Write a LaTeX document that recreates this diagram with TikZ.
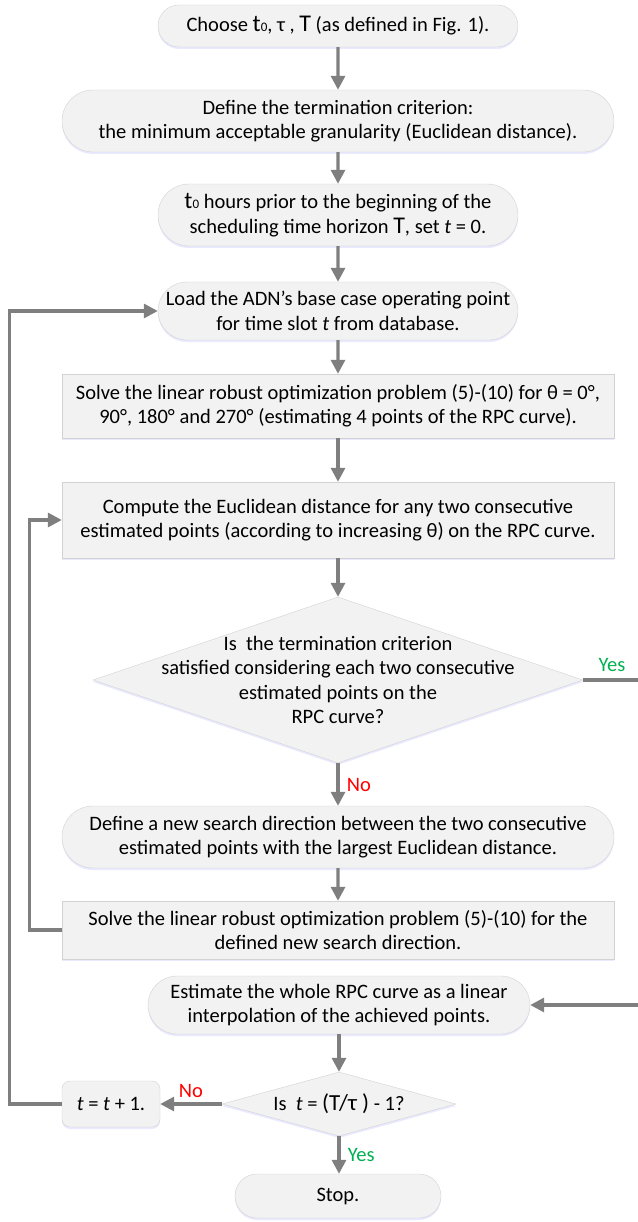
\documentclass[tikz,border=0pt]{standalone}
\usepackage{fontspec}
\setmainfont{Carlito}
\usetikzlibrary{shapes.geometric,shapes.misc,arrows.meta,shadows}

\definecolor{boxfill}{RGB}{242,242,242}
\definecolor{boxline}{RGB}{210,210,210}
\definecolor{arrgray}{RGB}{127,127,127}
\definecolor{yesgreen}{RGB}{0,176,80}
\definecolor{nored}{RGB}{255,0,0}

\newcommand{\tzero}{{\fontsize{24}{24}\selectfont t}{\fontsize{13}{14}\selectfont 0}}
\newcommand{\bigT}{{\fontsize{24}{24}\selectfont T}}

\tikzset{
  base/.style={draw=boxline, fill=boxfill, align=center, inner sep=0pt,
    font=\fontsize{20.5}{24.5}\selectfont,
    drop shadow={shadow xshift=0pt, shadow yshift=-2pt, fill=blue!25, opacity=0.35}},
  pill/.style={base, rounded rectangle},
  box/.style={base},
  decision/.style={base, diamond},
  arr/.style={draw=arrgray, line width=3.2pt, -{Triangle[length=14pt,width=14pt]}},
  yeslbl/.style={text=yesgreen, font=\fontsize{20.5}{24.5}\selectfont},
  nolbl/.style={text=nored, font=\fontsize{20.5}{24.5}\selectfont},
  txt/.style={align=center, font=\fontsize{20.5}{24.5}\selectfont},
}

\begin{document}
\begin{tikzpicture}[x=1pt, y=-1pt]
    \useasboundingbox (0,0) rectangle (637,1222);

    % main column
    \node[pill, minimum width=360pt, minimum height=42pt] (choose) at (338,26)
        {Choose \tzero, τ , \bigT\ (as defined in Fig. 1).};
    \node[pill, minimum width=552pt, minimum height=62pt] (crit) at (338,121)
        {Define the termination criterion:\\the minimum acceptable granularity (Euclidean distance).};
    \node[pill, minimum width=360pt, minimum height=62pt] (hours) at (338,215)
        {\tzero\ hours prior to the beginning of the\\scheduling time horizon \bigT, set \textit{t} = 0.};
    \node[pill, minimum width=360pt, minimum height=58pt] (load) at (338,311)
        {Load the ADN’s base case operating point\\for time slot \textit{t} from database.};
    \node[box, minimum width=552pt, minimum height=64pt] (solve) at (338,406)
        {Solve the linear robust optimization problem (5)-(10) for θ = 0°,\\90°, 180° and 270° (estimating 4 points of the RPC curve).};
    \node[box, minimum width=552pt, minimum height=76pt] (comp) at (338,520)
        {Compute the Euclidean distance for any two consecutive\\estimated points (according to increasing θ) on the RPC curve.};
    \node[decision, minimum width=490pt, minimum height=166pt] (dec) at (338,680) {};
    \node[txt] (dectxt) at (dec.center)
        {Is\ \ the termination criterion\\satisfied considering each two consecutive\\estimated points on the\\RPC curve?};
    \node[pill, minimum width=552pt, minimum height=62pt] (newdir) at (338,837)
        {Define a new search direction between the two consecutive\\estimated points with the largest Euclidean distance.};
    \node[box, minimum width=552pt, minimum height=58pt] (solvenew) at (338,930)
        {Solve the linear robust optimization problem (5)-(10) for the\\defined new search direction.};
    \node[pill, minimum width=382pt, minimum height=58pt] (est) at (339,1005)
        {Estimate the whole RPC curve as a linear\\interpolation of the achieved points.};
    \node[decision, minimum width=234pt, minimum height=64pt] (last) at (339,1104) {};
    \node[txt] (lasttxt) at (last.center)
        {Is\ \ \textit{t} = {\fontsize{23}{24}\selectfont (T/τ )} - 1?};
    \node[base, rounded corners=8pt, minimum width=98pt, minimum height=46pt] (incr) at (111,1104)
        {\textit{t} = \textit{t} + 1.};
    \node[pill, minimum width=206pt, minimum height=44pt] (stop) at (338,1196) {Stop.};

    % connectors
    \draw[arr] (choose) -- (crit);
    \draw[arr] (crit) -- (hours);
    \draw[arr] (hours) -- (load);
    \draw[arr] (load) -- (solve);
    \draw[arr] (solve) -- (comp);
    \draw[arr] (comp) -- (dec);
    \draw[arr] (dec) -- node[nolbl, right=4pt] {No} (newdir);
    \draw[arr] (newdir) -- (solvenew);
    \draw[arr] (solvenew.west) -- ++(-32,0) |- (comp.west);
    \draw[arr] (dec.east) -- ++(80,0) |- (est.east);
    \node[yeslbl] at (612,665) {Yes};
    \draw[arr] (est.south -| last.north) -- (last.north);
    \draw[arr] (last.west) -- node[nolbl, above=1pt] {No} (incr.east);
    \draw[arr] (incr.west) -- ++(-52,0) |- (load.west);
    \draw[arr] (last.south) -- node[yeslbl, right=4pt] {Yes} (stop.north -| last.south);
\end{tikzpicture}
\end{document}
